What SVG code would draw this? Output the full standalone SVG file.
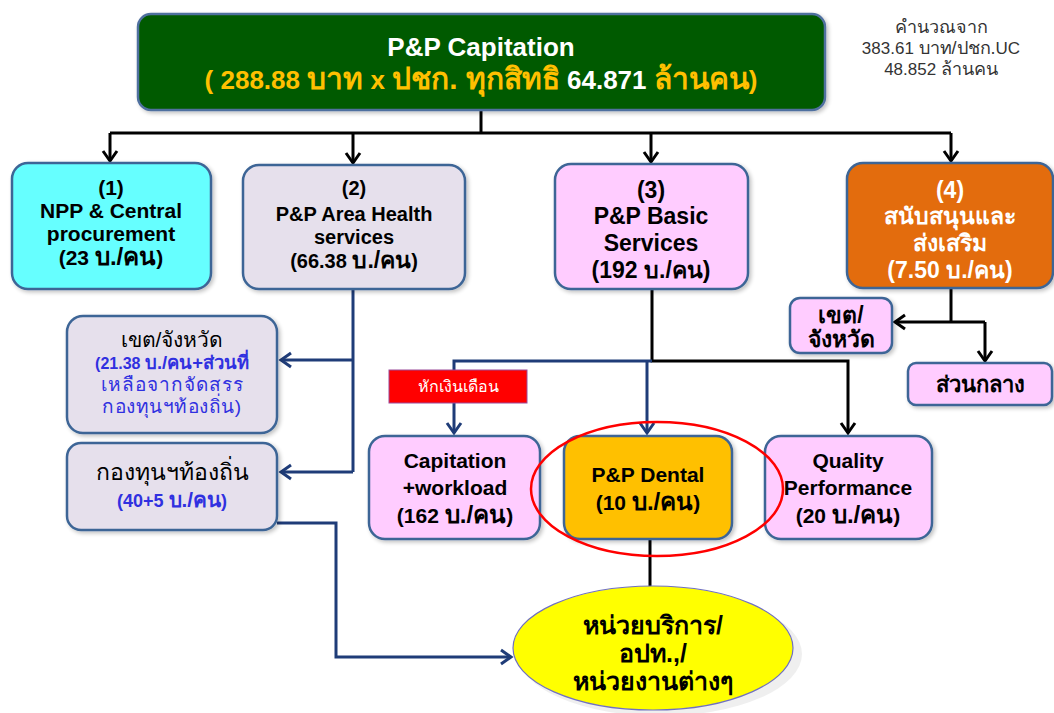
<svg xmlns="http://www.w3.org/2000/svg" width="1054" height="713" viewBox="0 0 1054 713">
<defs>
<marker id="ab" markerUnits="userSpaceOnUse" markerWidth="16" markerHeight="16" refX="11" refY="8" orient="auto" overflow="visible">
<path d="M1,1 L11,8 L1,15" fill="none" stroke="#000" stroke-width="3"/>
</marker>
<marker id="au" markerUnits="userSpaceOnUse" markerWidth="16" markerHeight="16" refX="11" refY="8" orient="auto" overflow="visible">
<path d="M1,1 L11,8 L1,15" fill="none" stroke="#1f3c78" stroke-width="3"/>
</marker>
<filter id="sh" x="-10%" y="-10%" width="130%" height="130%">
<feGaussianBlur in="SourceAlpha" stdDeviation="2"/>
<feOffset dx="2" dy="2"/>
<feComponentTransfer><feFuncA type="linear" slope="0.25"/></feComponentTransfer>
<feMerge><feMergeNode/><feMergeNode in="SourceGraphic"/></feMerge>
</filter>
</defs>
<style>
text{font-family:"Liberation Sans","DejaVu Sans","Noto Sans",sans-serif;text-anchor:middle;}
.b{font-weight:bold;}
.box{stroke:#3d6596;stroke-width:2.5;}
.blk{fill:none;stroke:#000;stroke-width:3;}
.blu{fill:none;stroke:#1f3c78;stroke-width:3;}
.blue{fill:#3030e0;}
.th{font-size:1.15em;}
</style>
<rect width="1054" height="713" fill="#fff"/>

<g id="connectors">
<path class="blk" d="M481,110 V133"/>
<path class="blk" d="M110,133 H951"/>
<path class="blk" d="M110,133 V161" marker-end="url(#ab)"/>
<path class="blk" d="M353,133 V163" marker-end="url(#ab)"/>
<path class="blk" d="M651,133 V162" marker-end="url(#ab)"/>
<path class="blk" d="M951,133 V161" marker-end="url(#ab)"/>
<path class="blu" d="M353,289 V472"/>
<path class="blu" d="M353,360 H281" marker-end="url(#au)"/>
<path class="blu" d="M353,472 H281" marker-end="url(#au)"/>
<path class="blu" d="M277,523 H336 V657 H511" marker-end="url(#au)"/>
<path class="blk" d="M652,289 V361 H848 V433" marker-end="url(#ab)"/>
<path class="blu" d="M652,361 H454 V433" marker-end="url(#au)"/>
<path class="blu" d="M647,361 V433" marker-end="url(#au)"/>
<path class="blk" d="M951,288 V322"/>
<path class="blk" d="M985,322 H895" marker-end="url(#ab)"/>
<path class="blk" d="M985,322 V361" marker-end="url(#ab)"/>
<path class="blk" d="M650,540 V594"/>
</g>

<g id="top">
<rect x="138" y="14" width="687" height="96" rx="13" fill="#005a00" stroke="#4f6f9f" stroke-width="2.5" filter="url(#sh)"/>
<text class="b" x="481" y="56" font-size="26" fill="#fff">P&amp;P Capitation</text>
<text class="b" x="481" y="89" font-size="26" fill="#ffc000">( 288.88 <tspan class="th">บาท</tspan> x <tspan class="th">ปชก. ทุกสิทธิ</tspan> <tspan fill="#fff">64.871</tspan> <tspan class="th">ล้านคน</tspan>)</text>
</g>

<g id="note">
<text x="941" y="33" font-size="18" fill="#333">คำนวณจาก</text>
<text x="941" y="54" font-size="17" fill="#333">383.61 <tspan font-size="18">บาท/ปชก.</tspan>UC</text>
<text x="941" y="75" font-size="17" fill="#333">48.852 <tspan font-size="18">ล้านคน</tspan></text>
</g>

<g id="n1">
<rect class="box" x="12" y="163" width="199" height="126" rx="16" fill="#66ffff" filter="url(#sh)"/>
<text class="b" x="111" y="195" font-size="21">(1)</text>
<text class="b" x="111" y="218" font-size="21">NPP &amp; Central</text>
<text class="b" x="111" y="241" font-size="21">procurement</text>
<text class="b" x="111" y="265" font-size="21">(23 <tspan class="th">บ./คน</tspan>)</text>
</g>

<g id="n2">
<rect class="box" x="243" y="165" width="222" height="124" rx="16" fill="#e6e0ec" filter="url(#sh)"/>
<text class="b" x="354" y="195" font-size="20">(2)</text>
<text class="b" x="354" y="221" font-size="20">P&amp;P Area Health</text>
<text class="b" x="354" y="244" font-size="20">services</text>
<text class="b" x="354" y="268" font-size="20">(66.38 <tspan class="th">บ./คน</tspan>)</text>
</g>

<g id="n3">
<rect class="box" x="555" y="164" width="193" height="125" rx="16" fill="#ffccff" filter="url(#sh)"/>
<text class="b" x="651" y="198" font-size="23">(3)</text>
<text class="b" x="651" y="224" font-size="23">P&amp;P Basic</text>
<text class="b" x="651" y="251" font-size="23">Services</text>
<text class="b" x="651" y="278" font-size="23">(192 บ./คน)</text>
</g>

<g id="n4">
<rect class="box" x="847" y="163" width="206" height="125" rx="16" fill="#e36c09" filter="url(#sh)"/>
<text class="b" x="950" y="198" font-size="23" fill="#fff">(4)</text>
<text class="b" x="950" y="224" font-size="23" fill="#fff">สนับสนุนและ</text>
<text class="b" x="950" y="251" font-size="23" fill="#fff">ส่งเสริม</text>
<text class="b" x="950" y="278" font-size="23" fill="#fff">(7.50 บ./คน)</text>
</g>

<g id="n-area">
<rect class="box" x="67" y="316" width="210" height="117" rx="16" fill="#e6e0ec" filter="url(#sh)"/>
<text x="172" y="347" font-size="21">เขต/จังหวัด</text>
<text class="b blue" x="172" y="369" font-size="16">(21.38 <tspan class="th">บ./คน+ส่วนที่</tspan></text>
<text class="blue" x="172" y="391" font-size="19" letter-spacing="1">เหลือจากจัดสรร</text>
<text class="blue" x="172" y="413" font-size="19" letter-spacing="0.5">กองทุนฯท้องถิ่น)</text>
</g>

<g id="n-local">
<rect class="box" x="67" y="443" width="210" height="87" rx="14" fill="#e6e0ec" filter="url(#sh)"/>
<text x="172" y="480" font-size="23">กองทุนฯท้องถิ่น</text>
<text class="b blue" x="172" y="507" font-size="18">(40+5 <tspan class="th">บ./คน</tspan>)</text>
</g>

<g id="n-area4">
<rect class="box" x="790" y="298" width="102" height="55" rx="10" fill="#ffccff" filter="url(#sh)"/>
<text class="b" x="841" y="323" font-size="23">เขต/</text>
<text class="b" x="841" y="347" font-size="23">จังหวัด</text>
</g>

<g id="n-central">
<rect class="box" x="908" y="363" width="144" height="42" rx="8" fill="#ffccff" filter="url(#sh)"/>
<text class="b" x="980" y="392" font-size="22">ส่วนกลาง</text>
</g>

<g id="label-deduct">
<rect x="389" y="370" width="138" height="33" fill="#ff0000" stroke="#9a4a9a" stroke-width="1"/>
<text x="458" y="392" font-size="16" fill="#fff">หักเงินเดือน</text>
</g>

<g id="n-cap">
<rect class="box" x="369" y="436" width="171" height="103" rx="16" fill="#ffccff" filter="url(#sh)"/>
<text class="b" x="455" y="468" font-size="21">Capitation</text>
<text class="b" x="455" y="495" font-size="21">+workload</text>
<text class="b" x="455" y="523" font-size="21">(162 <tspan class="th">บ./คน</tspan>)</text>
</g>

<g id="n-dental">
<rect class="box" x="564" y="436" width="168" height="103" rx="16" fill="#ffc000" filter="url(#sh)"/>
<text class="b" x="648" y="482" font-size="21">P&amp;P Dental</text>
<text class="b" x="648" y="510" font-size="21">(10 <tspan class="th">บ./คน</tspan>)</text>
</g>

<g id="n-quality">
<rect class="box" x="765" y="436" width="167" height="103" rx="16" fill="#ffccff" filter="url(#sh)"/>
<text class="b" x="848" y="468" font-size="21">Quality</text>
<text class="b" x="848" y="495" font-size="21">Performance</text>
<text class="b" x="848" y="523" font-size="21">(20 <tspan class="th">บ./คน</tspan>)</text>
</g>

<g id="highlight">
<ellipse cx="657" cy="489" rx="126" ry="67" fill="none" stroke="#ff0000" stroke-width="2.5"/>
</g>

<g id="n-units">
<ellipse cx="660" cy="654" rx="142" ry="62" fill="#e8e8e8" opacity="0.7"/>
<ellipse cx="653" cy="648" rx="140" ry="62" fill="#ffff00" stroke="#7070c0" stroke-width="1.2"/>
<text class="b" x="653" y="634" font-size="25">หน่วยบริการ/</text>
<text class="b" x="653" y="662" font-size="25">อปท.,/</text>
<text class="b" x="653" y="690" font-size="25">หน่วยงานต่างๆ</text>
</g>
</svg>
